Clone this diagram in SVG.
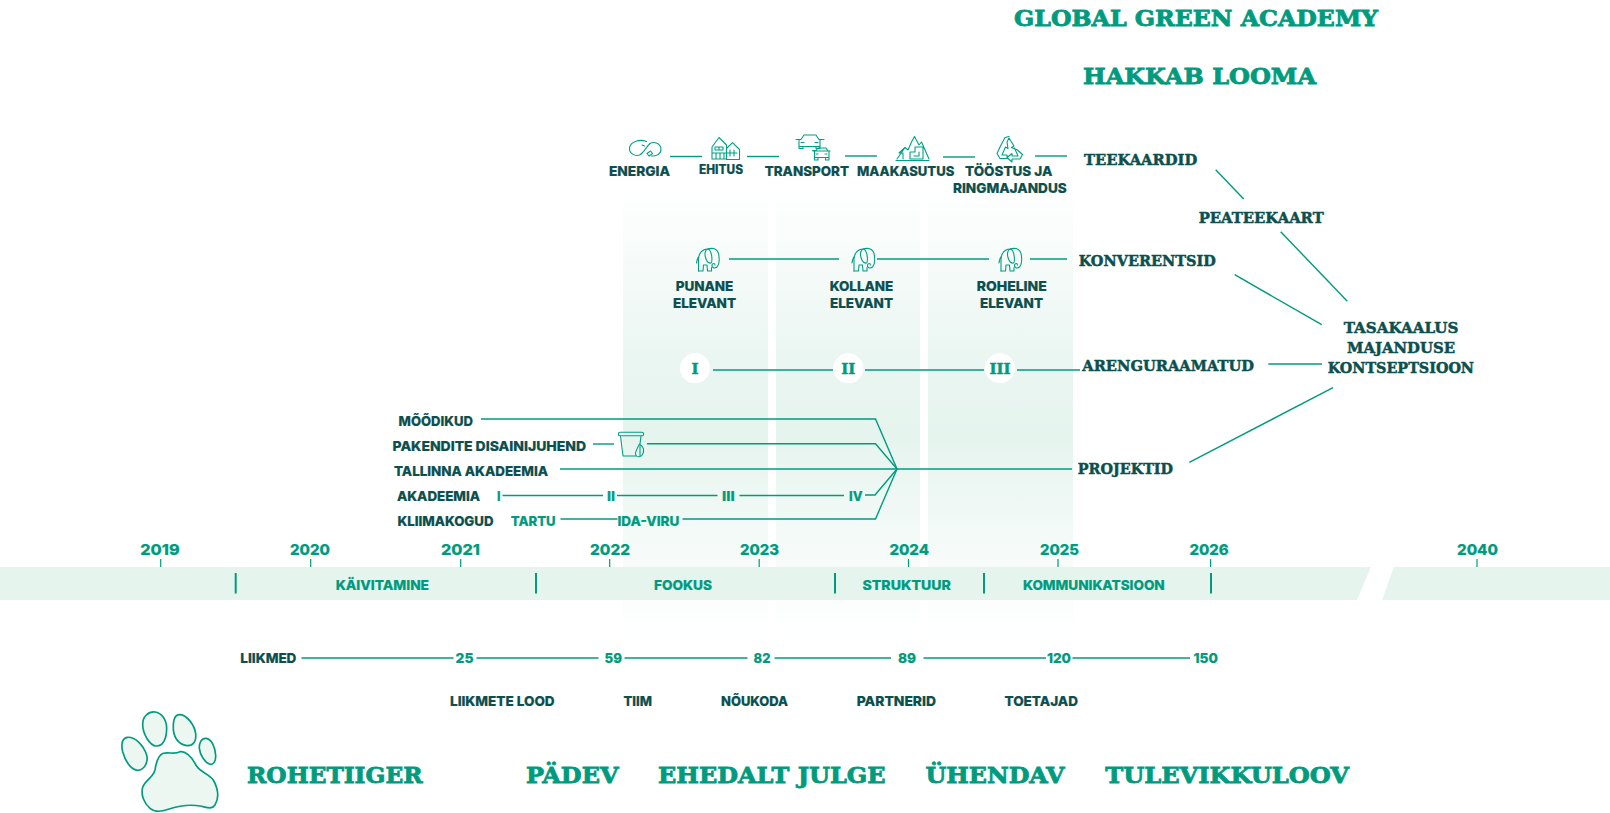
<svg xmlns="http://www.w3.org/2000/svg" width="1610" height="813" viewBox="0 0 1610 813">
<style>
text{font-family:"Inter","Noto Sans","Liberation Sans",sans-serif;font-weight:800;font-size:13.800px;transform:translateY(.6px);stroke-width:.2px}
.d{fill:#0b4f4e;stroke:#0b4f4e}
.g{fill:#009b7e;stroke:#009b7e}
.s{font-family:"DejaVu Serif","Liberation Serif",serif;font-weight:700;transform:none}
.s1{font-size:15.500px;stroke-width:.5px}
.s2{font-size:23px;stroke-width:.85px}
.m{text-anchor:middle}
.c line,.c path{stroke:#009b7e;stroke-width:1.4;fill:none}
.t{stroke:#009b7e;stroke-width:1.2}
.v{stroke:#009b7e;stroke-width:2}
.i{fill:none;stroke:#00a083;stroke-width:1.1;stroke-linejoin:round;stroke-linecap:round}
.p{fill:#edf7f2;stroke:#009b7e;stroke-width:5}
</style>
<defs>
<linearGradient id="col" x1="0" y1="0" x2="0" y2="1">
<stop offset="0" stop-color="#e4f3ed" stop-opacity="0"/>
<stop offset=".4" stop-color="#e4f3ed" stop-opacity=".8"/>
<stop offset=".55" stop-color="#e4f3ed" stop-opacity=".95"/>
<stop offset=".78" stop-color="#e4f3ed" stop-opacity=".4"/>
<stop offset="1" stop-color="#e4f3ed" stop-opacity="0"/>
</linearGradient>
<g id="elephant" class="i">
<path d="M3 23V12C3 5 7 1 12 1C15 .5 16 0 18 .5C21.5 1.5 23.5 5 23.5 9C24 13 23.5 17 21.5 19C19 21 16 19.5 16.5 17C17 15 19.5 15 19.5 17"/>
<path d="M12 1C9.5 2 9 6 10 9.5C11 13 13 15.5 15.5 15C17 14 16.5 8 15.5 5C14.5 2 13.5 .8 12 1Z"/>
<path d="M3 23H7.500L8 17H11.500L12 23H16V19.500"/>
<path d="M1 15C1.500 12 2 10 3 9"/>
</g>
</defs>
<rect id="band-columns-a" x="623" y="185" width="145" height="455" fill="url(#col)"/>
<rect id="band-columns-b" x="776" y="185" width="144" height="455" fill="url(#col)"/>
<rect id="band-columns-c" x="928" y="185" width="145" height="455" fill="url(#col)"/>
<path id="timeline-band" d="M0 567H1371L1357 600H0ZM1394 567H1610V600H1382Z" fill="#e4f4ed" fill-opacity=".95"/>
<g id="connectors" class="c">
<line x1="670" y1="156.500" x2="702" y2="156.500"/>
<line x1="747" y1="156.500" x2="779" y2="156.500"/>
<line x1="845" y1="156" x2="877" y2="156"/>
<line x1="943" y1="157" x2="975" y2="157"/>
<line x1="1035" y1="156" x2="1067" y2="156"/>
<line x1="729" y1="259" x2="839" y2="259"/>
<line x1="877" y1="259" x2="989" y2="259"/>
<line x1="1030" y1="259" x2="1067" y2="259"/>
<line x1="713" y1="370" x2="833" y2="370"/>
<line x1="865" y1="370" x2="984" y2="370"/>
<line x1="1017" y1="370" x2="1080" y2="370"/>
<path d="M481 419H875.500L897 469"/>
<line x1="593" y1="444" x2="614" y2="444"/>
<path d="M647 443.700H875.500L897 469"/>
<line x1="560" y1="469" x2="1072" y2="469"/>
<line x1="502.500" y1="495.500" x2="603" y2="495.500"/>
<line x1="617" y1="495.500" x2="717.500" y2="495.500"/>
<line x1="739.500" y1="495.500" x2="844" y2="495.500"/>
<path d="M865 495H875L897 469"/>
<line x1="560.500" y1="519" x2="617.500" y2="519"/>
<path d="M682.500 519H875.500L897 469"/>
<line x1="301.500" y1="658" x2="453.500" y2="658"/>
<line x1="476.500" y1="658" x2="598.500" y2="658"/>
<line x1="624.500" y1="658" x2="747.500" y2="658"/>
<line x1="774.500" y1="658" x2="891" y2="658"/>
<line x1="923.500" y1="658" x2="1046" y2="658"/>
<line x1="1072.500" y1="658" x2="1190" y2="658"/>
<line x1="1215.700" y1="169.700" x2="1243.700" y2="199"/>
<line x1="1280.700" y1="231.700" x2="1347.300" y2="301.300"/>
<line x1="1234.700" y1="274.700" x2="1321.700" y2="324.700"/>
<line x1="1268.300" y1="364" x2="1322" y2="364"/>
<line x1="1189.300" y1="462.300" x2="1333" y2="387.700"/>
</g>
<g id="ticks">
<line class="t" x1="160.700" y1="559" x2="160.700" y2="567"/>
<line class="t" x1="310.700" y1="559" x2="310.700" y2="567"/>
<line class="t" x1="460.700" y1="559" x2="460.700" y2="567"/>
<line class="t" x1="609.700" y1="559" x2="609.700" y2="567"/>
<line class="t" x1="759.200" y1="559" x2="759.200" y2="567"/>
<line class="t" x1="908.500" y1="559" x2="908.500" y2="567"/>
<line class="t" x1="1058" y1="559" x2="1058" y2="567"/>
<line class="t" x1="1210.600" y1="559" x2="1210.600" y2="567"/>
<line class="t" x1="1477" y1="559" x2="1477" y2="567"/>
<line class="v" x1="235.700" y1="573" x2="235.700" y2="593.500"/>
<line class="v" x1="536" y1="573" x2="536" y2="593.500"/>
<line class="v" x1="835" y1="573" x2="835" y2="593.500"/>
<line class="v" x1="984" y1="573" x2="984" y2="593.500"/>
<line class="v" x1="1211" y1="573" x2="1211" y2="593.500"/>
</g>
<g id="title">
<text class="s s2 g" x="1014" y="26" textLength="364" lengthAdjust="spacingAndGlyphs">GLOBAL GREEN ACADEMY</text>
<text class="s s2 g" x="1083" y="84" textLength="233" lengthAdjust="spacingAndGlyphs">HAKKAB LOOMA</text>
</g>
<g id="node-energia">
<path class="i" d="M646.500 141.500C640 139 630.500 141 629.500 148C629 153.500 635 156.500 639.500 155C644 153 646 147 650 143.500C654 141 661 143.500 661 149.500C661 154 656 156.500 651.500 156M642 145L644.500 146M650.500 151L647 153.500L649 156L652.500 153.500Z"/>
<text class="d" x="609" y="175.300" textLength="61" lengthAdjust="spacingAndGlyphs">ENERGIA</text>
</g>
<g id="node-ehitus">
<path class="i" d="M712 147L719 137.500L726.500 145V159H712ZM726.500 148.500L732.500 142.700L739.500 149.500V159.500H726.500M715 147H723M715 150H723M715 147V150M719 147V150M723 147V150M713 153H737M716 153V158.500M720 153V158.500M724 153V158.500M730 150V156M734 150V156"/>
<text class="d" x="699" y="173.700" style="font-size:12.500px" textLength="44" lengthAdjust="spacingAndGlyphs">EHITUS</text>
</g>
<g id="node-transport">
<path class="i" d="M796 139.500H801L804 135H816L819 139.500H824M799 139.500V146.500H820V139.500M799 146.500V148.500H803V146.500M816 146.500V148.500H820V146.500M801 142.500H804M815 142.500H818"/>
<path class="i" d="M813 151H829.500M812.500 150.500H816L818 148H826L828 151H830M814.500 151V157.500H829V151M814.500 157.500V160H818V157.500M825.500 157.500V160H829V157.500M816 154H818M825 154H827"/>
<text class="d" x="764.700" y="175.300" textLength="84.300" lengthAdjust="spacingAndGlyphs">TRANSPORT</text>
</g>
<g id="node-maakasutus">
<path class="i" d="M896 160.500H929M897 159L905 147.500L908 150L911.500 142L914.500 136.500L919 145L921.500 142L929 159M905 147.500L899 153H903V159M910 159V152H915V147H923V159H910M919 152V156H914"/>
<text class="d" x="857" y="175.300" textLength="97.300" lengthAdjust="spacingAndGlyphs">MAAKASUTUS</text>
</g>
<g id="node-toostus">
<path class="i" d="M1009 136.500L1005 137.500L1000.500 146L997 153.500L1000 158.500H1007V155H1002L1005.500 147L1008 148.500L1007 142L1009 138L1014 146L1011.500 147.500L1017.500 150L1022.500 154.500L1020 159H1012V162L1007 157.500L1012 153.500V156H1018L1014.500 148"/>
<text class="d" x="965" y="175.300" textLength="87.300" lengthAdjust="spacingAndGlyphs">TÖÖSTUS JA</text>
<text class="d" x="953" y="192.700" textLength="113.700" lengthAdjust="spacingAndGlyphs">RINGMAJANDUS</text>
</g>
<g id="node-punane">
<use href="#elephant" x="695.500" y="248"/>
<text class="d" x="675.700" y="290.700" textLength="57.600" lengthAdjust="spacingAndGlyphs">PUNANE</text>
<text class="d" x="673" y="307.700" textLength="63" lengthAdjust="spacingAndGlyphs">ELEVANT</text>
</g>
<g id="node-kollane">
<use href="#elephant" x="851" y="248"/>
<text class="d" x="829.700" y="290.700" textLength="63.600" lengthAdjust="spacingAndGlyphs">KOLLANE</text>
<text class="d" x="830" y="307.700" textLength="63" lengthAdjust="spacingAndGlyphs">ELEVANT</text>
</g>
<g id="node-roheline">
<use href="#elephant" x="998" y="248"/>
<text class="d" x="976.700" y="290.700" textLength="70" lengthAdjust="spacingAndGlyphs">ROHELINE</text>
<text class="d" x="980" y="307.700" textLength="63" lengthAdjust="spacingAndGlyphs">ELEVANT</text>
</g>
<g id="node-books">
<circle cx="695" cy="368.300" r="15" fill="#fff"/>
<circle cx="848.300" cy="368.300" r="15" fill="#fff"/>
<circle cx="1000" cy="368.300" r="15" fill="#fff"/>
<text class="s s1 g m" x="695" y="374" style="font-size:15px">I</text>
<text class="s s1 g m" x="848.300" y="374" style="font-size:15px">II</text>
<text class="s s1 g m" x="1000" y="374" style="font-size:15px" textLength="21" lengthAdjust="spacingAndGlyphs">III</text>
</g>
<g id="node-right">
<text class="s s1 d" x="1084" y="164.700" textLength="113.300" lengthAdjust="spacingAndGlyphs">TEEKAARDID</text>
<text class="s s1 d" x="1198.700" y="222.700" textLength="125" lengthAdjust="spacingAndGlyphs">PEATEEKAART</text>
<text class="s s1 d" x="1078.700" y="265.700" textLength="137" lengthAdjust="spacingAndGlyphs">KONVERENTSID</text>
<text class="s s1 d" x="1082.300" y="370.700" textLength="171.700" lengthAdjust="spacingAndGlyphs">ARENGURAAMATUD</text>
<text class="s s1 d" x="1077.700" y="473.700" textLength="95.300" lengthAdjust="spacingAndGlyphs">PROJEKTID</text>
<text class="s s1 d" x="1343.700" y="332.700" textLength="114.600" lengthAdjust="spacingAndGlyphs">TASAKAALUS</text>
<text class="s s1 d" x="1347" y="352.700" textLength="108" lengthAdjust="spacingAndGlyphs">MAJANDUSE</text>
<text class="s s1 d" x="1327.700" y="372.700" textLength="146.300" lengthAdjust="spacingAndGlyphs">KONTSEPTSIOON</text>
</g>
<g id="node-projects">
<text class="d" x="398.600" y="425" textLength="74.300" lengthAdjust="spacingAndGlyphs">MÕÕDIKUD</text>
<text class="d" x="392.500" y="450" textLength="193.500" lengthAdjust="spacingAndGlyphs">PAKENDITE DISAINIJUHEND</text>
<text class="d" x="394" y="475" textLength="154" lengthAdjust="spacingAndGlyphs">TALLINNA AKADEEMIA</text>
<text class="d" x="397" y="500" textLength="83" lengthAdjust="spacingAndGlyphs">AKADEEMIA</text>
<text class="g" x="497" y="500" textLength="3.500" lengthAdjust="spacingAndGlyphs">I</text>
<text class="g" x="607" y="500" textLength="8" lengthAdjust="spacingAndGlyphs">II</text>
<text class="g" x="722" y="500" textLength="12.600" lengthAdjust="spacingAndGlyphs">III</text>
<text class="g" x="849" y="500" textLength="13.500" lengthAdjust="spacingAndGlyphs">IV</text>
<text class="d" x="397.500" y="525" textLength="96" lengthAdjust="spacingAndGlyphs">KLIIMAKOGUD</text>
<text class="g" x="510.700" y="525" textLength="45" lengthAdjust="spacingAndGlyphs">TARTU</text>
<text class="g" x="617.500" y="525" textLength="61.800" lengthAdjust="spacingAndGlyphs">IDA-VIRU</text>
<path class="i" d="M618.500 433.500C618.500 432.500 619 432.300 620 432.300H642C643 432.300 643.500 432.500 643.500 433.500V435C643.500 435.500 643 435.700 642 435.700H620C619 435.700 618.500 435.500 618.500 435ZM620.500 436L623 456H636M641 436L640 444M639.500 444C637 449 635 452 635.500 454C636 456.500 638 457 640 456.500C642.500 456 644 452.500 643.500 449C643 447 641 445 639.500 444ZM640 446V456"/>
</g>
<g id="node-years">
<text class="g" x="140.300" y="554.300" style="font-size:15px" textLength="39.300" lengthAdjust="spacingAndGlyphs">2019</text>
<text class="g" x="290" y="554.300" style="font-size:15px" textLength="40" lengthAdjust="spacingAndGlyphs">2020</text>
<text class="g" x="441" y="554.300" style="font-size:15px" textLength="39" lengthAdjust="spacingAndGlyphs">2021</text>
<text class="g" x="590" y="554.300" style="font-size:15px" textLength="40" lengthAdjust="spacingAndGlyphs">2022</text>
<text class="g" x="740" y="554.300" style="font-size:15px" textLength="39" lengthAdjust="spacingAndGlyphs">2023</text>
<text class="g" x="889.400" y="554.300" style="font-size:15px" textLength="39.600" lengthAdjust="spacingAndGlyphs">2024</text>
<text class="g" x="1040" y="554.300" style="font-size:15px" textLength="39" lengthAdjust="spacingAndGlyphs">2025</text>
<text class="g" x="1189.500" y="554.300" style="font-size:15px" textLength="39.200" lengthAdjust="spacingAndGlyphs">2026</text>
<text class="g" x="1457" y="554.300" style="font-size:15px" textLength="41" lengthAdjust="spacingAndGlyphs">2040</text>
</g>
<g id="node-phases">
<text class="g" x="335.700" y="589" textLength="93.300" lengthAdjust="spacingAndGlyphs">KÄIVITAMINE</text>
<text class="g" x="654" y="589" textLength="58" lengthAdjust="spacingAndGlyphs">FOOKUS</text>
<text class="g" x="862.500" y="589" textLength="88.300" lengthAdjust="spacingAndGlyphs">STRUKTUUR</text>
<text class="g" x="1023" y="589" textLength="141.700" lengthAdjust="spacingAndGlyphs">KOMMUNIKATSIOON</text>
</g>
<g id="node-members">
<text class="d" x="240.300" y="662" textLength="56.100" lengthAdjust="spacingAndGlyphs">LIIKMED</text>
<text class="g" x="455.600" y="662" textLength="17.900" lengthAdjust="spacingAndGlyphs">25</text>
<text class="g" x="604.600" y="662" textLength="17.400" lengthAdjust="spacingAndGlyphs">59</text>
<text class="g" x="753.600" y="662" textLength="16.800" lengthAdjust="spacingAndGlyphs">82</text>
<text class="g" x="898" y="662" textLength="18" lengthAdjust="spacingAndGlyphs">89</text>
<text class="g" x="1047" y="662" textLength="24" lengthAdjust="spacingAndGlyphs">120</text>
<text class="g" x="1193.600" y="662" textLength="24.400" lengthAdjust="spacingAndGlyphs">150</text>
<text class="d" x="450" y="705.700" textLength="104.600" lengthAdjust="spacingAndGlyphs">LIIKMETE LOOD</text>
<text class="d" x="623.500" y="705.700" textLength="28.500" lengthAdjust="spacingAndGlyphs">TIIM</text>
<text class="d" x="721" y="705.700" textLength="67" lengthAdjust="spacingAndGlyphs">NÕUKODA</text>
<text class="d" x="856.800" y="705.700" textLength="79.200" lengthAdjust="spacingAndGlyphs">PARTNERID</text>
<text class="d" x="1004.500" y="705.700" textLength="73.500" lengthAdjust="spacingAndGlyphs">TOETAJAD</text>
</g>
<g id="node-paw" transform="translate(100 700) scale(.3333)">
<path class="p" d="M165 36C185 38 200 60 200 85C200 115 190 138 170 138C148 138 128 100 128 72C128 50 145 34 165 36Z"/>
<path class="p" d="M240 44C262 46 283 75 287 100C290 125 278 138 262 137C238 135 222 115 220 88C219 65 222 43 240 44Z"/>
<path class="p" d="M82 112C105 110 130 135 140 165C146 190 130 212 112 211C90 208 75 180 68 155C62 130 68 114 82 112Z"/>
<path class="p" d="M318 115C335 117 345 140 347 165C348 185 340 195 330 193C315 188 300 165 298 145C297 128 305 114 318 115Z"/>
<path class="p" d="M190 160C205 155 225 165 240 155C255 152 275 170 285 190C295 215 325 220 340 240C352 262 360 290 345 315C335 330 320 322 300 318C270 313 235 318 205 328C185 335 165 338 150 325C132 310 122 285 128 262C135 240 158 235 165 210C168 190 175 165 190 160Z"/>
</g>
<g id="node-values">
<text class="s s2 g" x="247" y="783" textLength="175.500" lengthAdjust="spacingAndGlyphs">ROHETIIGER</text>
<text class="s s2 g" x="526" y="783" textLength="92.500" lengthAdjust="spacingAndGlyphs">PÄDEV</text>
<text class="s s2 g" x="658" y="783" textLength="227.500" lengthAdjust="spacingAndGlyphs">EHEDALT JULGE</text>
<text class="s s2 g" x="925.500" y="783" textLength="139" lengthAdjust="spacingAndGlyphs">ÜHENDAV</text>
<text class="s s2 g" x="1105.300" y="783" textLength="243.700" lengthAdjust="spacingAndGlyphs">TULEVIKKULOOV</text>
</g>
</svg>
